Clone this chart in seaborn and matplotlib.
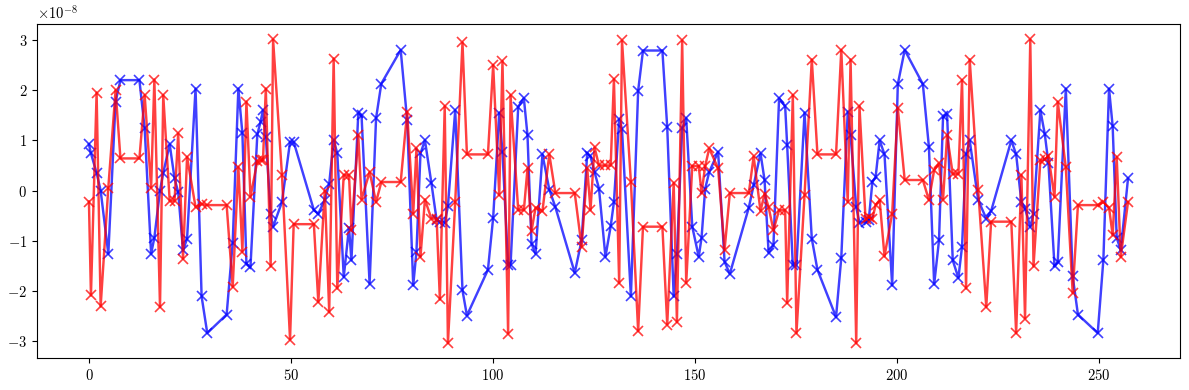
import matplotlib
matplotlib.use("Agg")
import matplotlib.pyplot as plt
import seaborn as sns
import numpy as np

# LaTeX-like look without a TeX install
plt.rcParams['font.family'] = 'serif'
plt.rcParams['font.serif'] = ['cmr10', 'DejaVu Serif']
plt.rcParams['mathtext.fontset'] = 'cm'
plt.rcParams['axes.formatter.use_mathtext'] = True
plt.rcParams['axes.unicode_minus'] = True

# sample positions shared by both series
x = [0.0, 0.5, 1.9, 2.9, 4.8, 6.6, 7.8, 12.5, 13.8, 15.4, 16.2, 17.6, 18.4, 20.0,
     21.2, 22.1, 23.3, 24.3, 26.4, 27.9, 29.3, 34.1, 35.6, 37.0, 38.0, 39.0, 40.0,
     41.7, 42.5, 43.1, 43.8, 45.0, 45.6, 47.8, 49.8, 50.7, 55.7, 56.8, 58.4, 59.5,
     60.6, 61.5, 63.1, 64.4, 65.0, 66.7, 67.5, 69.5, 71.1, 72.4, 77.2, 78.8, 80.3,
     81.1, 82.1, 83.2, 84.8, 86.1, 86.9, 88.1, 88.9, 90.7, 92.5, 93.6, 98.8, 100.1,
     101.6, 102.4, 103.8, 104.4, 106.3, 107.7, 108.6, 109.6, 110.6, 112.3, 114.0,
     115.5, 120.3, 122.0, 123.4, 124.2, 125.2, 126.3, 127.9, 129.2, 130.0, 131.3,
     132.0, 134.2, 136.0, 137.2, 142.0, 143.2, 144.8, 145.6, 146.9, 147.9, 149.4,
     151.0, 151.7, 152.6, 153.6, 155.8, 157.4, 158.7, 163.4, 164.6, 166.3, 167.3,
     168.3, 169.5, 170.9, 172.4, 172.9, 174.3, 175.2, 177.2, 179.0, 180.4, 185.0,
     186.3, 187.9, 188.6, 190.0, 190.8, 192.3, 193.1, 194.0, 194.8, 195.8, 197.0,
     198.9, 200.3, 202.0, 206.5, 208.0, 209.3, 210.5, 211.5, 212.5, 213.9, 215.3,
     216.2, 217.2, 218.1, 220.2, 222.2, 223.4, 228.4, 229.6, 230.9, 231.8, 233.1,
     233.9, 235.6, 236.7, 237.6, 239.1, 239.9, 241.9, 243.6, 244.9, 249.8, 251.2,
     252.6, 253.5, 254.5, 255.5, 257.3]

# blue series (units of 1e-8)
blue = [0.92, 0.74, 0.35, 0.0, -1.26, 1.77, 2.2, 2.2, 1.24, -1.26, -0.94, 0.0, 0.35, 0.92,
        0.24, -0.03, -1.19, -0.96, 2.03, -2.11, -2.84, -2.47, -1.04, 2.03, 1.14, -1.46, -1.52,
        1.12, 1.37, 1.6, 1.07, -0.46, -0.72, -0.23, 0.97, 0.97, -0.39, -0.46, -0.19, 0.14,
        1.0, 0.74, -1.72, -0.74, -1.39, 1.54, 1.5, -1.86, 1.44, 2.13, 2.8, 1.4, -1.89,
        -1.22, 0.74, 1.0, 0.15, -0.59, -0.62, -0.64, -0.31, 1.6, -1.99, -2.49, -1.58, -0.54,
        1.55, 0.77, -1.49, -1.49, 1.67, 1.84, 1.1, -1.06, -1.26, 0.72, 0.02,
        -0.33, -1.64, -0.99, 0.75, 0.68, 0.37, 0.04, -1.32, -0.71, -0.23, 1.42,
        1.22, -2.11, 1.99, 2.79, 2.79, 1.26, -2.11, -1.27, 1.24, 1.44, -0.72,
        -1.32, -0.94, 0.04, 0.37, 0.77, -1.42, -1.66, -0.34, 0.11, 0.74, 0.21,
        -1.24, -1.09, 1.84, 1.68, 0.9, -1.49, -1.49, 1.55, -0.96, -1.58, -2.52,
        -1.34, 1.57, 1.1, -0.33, -0.64, -0.62, -0.59, 0.17, 0.27, 1.0, 0.72,
        -1.89, 2.12, 2.8, 2.12, 0.87, -1.87, -0.99, 1.48, 1.52, -1.39, -1.74,
        -1.12, 0.72, 1.0, -0.19, -0.56, -0.41, 1.0, 0.72, -0.23, -0.36, -0.72,
        -0.46, 1.6, 1.12, 0.54, -1.51, -1.42, 2.03, -1.71, -2.47, -2.84, -1.38,
        2.03, 1.28, -0.94, -1.19, 0.24]

# red series (units of 1e-8)
red = [-0.22, -2.09, 1.95, -2.31, 0.06, 2.0, 0.64, 0.64, 1.9, 0.06, 2.21, -2.32, 1.9, -0.21,
       -0.21, 1.14, -1.36, 0.67, -0.33, -0.27, -0.29, -0.29, -1.92, 0.47, -1.22, 1.77, -0.13,
       0.59, 0.6, 0.6, 2.03, -1.51, 3.01, 0.31, -2.97, -0.67, -0.67, -2.22, 0.0, -2.42,
       2.63, -1.95, 0.31, 0.31, -0.79, 1.1, -0.18, 0.37, -0.23, 0.17, 0.17, 1.57, -0.46,
       0.84, -1.32, -0.18, -0.56, -0.56, -2.17, 1.68, -3.04, -0.23, 2.95, 0.72, 0.72, 2.5,
       -0.09, 2.58, -2.85, 1.9, -0.39, -0.39, 0.44, -0.8, -0.34, -0.41, 0.72,
       -0.05, -0.05, -1.12, 0.44, -0.39, 0.86, 0.5, 0.5, 0.5, 2.22, -1.84,
       2.99, 0.17, -2.8, -0.72, -0.72, -2.67, 0.15, -2.62, 2.99, -1.84, 0.49,
       0.49, -0.05, 0.49, 0.84, 0.44, -1.18, -0.05, -0.05, 0.68, -0.41, -0.06,
       -0.33, -0.79, -0.39, -0.39, -2.24, 1.9, -2.84, -0.09, 2.61, 0.72, 0.72,
       2.8, -0.23, 2.61, -3.04, 1.68, -0.56, -0.53, -0.56, -0.29, -0.19, -1.31,
       -0.46, 1.64, 0.21, 0.21, -0.19, 0.41, 0.54, -0.18, 1.1, 0.33, 0.33,
       2.2, -1.95, 2.61, 0.02, -2.32, -0.62, -0.62, -2.84, 0.31, -2.55, 3.01,
       -1.51, 0.6, 0.62, 0.68, -0.13, 1.77, 0.46, -2.04, -0.29, -0.29, -0.23,
       -0.34, -0.89, 0.67, -1.32, -0.23]

xs = np.array(x)
yb = np.array(blue) * 1e-8
yr = np.array(red) * 1e-8

fig, ax = plt.subplots(figsize=(11.89, 3.9), dpi=100)

sns.lineplot(x=xs, y=yb, ax=ax, color='blue', alpha=0.75, marker='x',
             markersize=6.5, markeredgecolor='blue', markeredgewidth=1.2,
             linewidth=1.75, estimator=None, sort=False)
sns.lineplot(x=xs, y=yr, ax=ax, color='red', alpha=0.75, marker='x',
             markersize=6.5, markeredgecolor='red', markeredgewidth=1.2,
             linewidth=1.75, estimator=None, sort=False)

ax.set_xticks([0, 50, 100, 150, 200, 250])
ax.set_yticks(np.arange(-3, 4) * 1e-8)
ax.tick_params(labelsize=10.5)
ax.yaxis.get_offset_text().set_fontsize(10.5)

fig.subplots_adjust(left=0.0311, right=0.9924, top=0.9377, bottom=0.0813)
fig.savefig('out.png', dpi=100)
